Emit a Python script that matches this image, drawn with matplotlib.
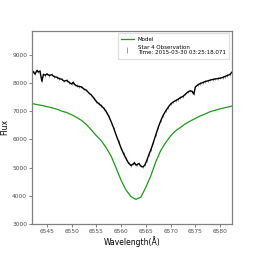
import matplotlib
matplotlib.use("Agg")
import matplotlib.pyplot as plt
import numpy as np

obs_wave = [6542.0, 6542.3, 6542.6, 6543.0, 6543.3, 6543.6, 6544.0, 6544.3, 6544.7,
            6545.0, 6545.5, 6546.0, 6546.5, 6547.0, 6547.5, 6548.0, 6548.5, 6549.0,
            6549.5, 6550.0, 6550.3, 6550.7, 6551.0, 6551.5, 6552.0, 6552.5, 6553.0,
            6553.5, 6554.0, 6554.5, 6555.0, 6555.5, 6556.0, 6556.5, 6557.0, 6557.5,
            6558.0, 6558.5, 6559.0, 6559.5, 6560.0, 6560.5, 6561.0, 6561.5, 6562.0,
            6562.4, 6562.7, 6563.0, 6563.3, 6563.6, 6564.0, 6564.4, 6564.8, 6565.2,
            6565.6, 6566.0, 6566.5, 6567.0, 6567.5, 6568.0, 6568.5, 6569.0, 6569.5,
            6570.0, 6570.5, 6571.0, 6571.5, 6572.0, 6572.5, 6573.0, 6573.5, 6574.0,
            6574.4, 6574.7, 6575.0, 6575.5, 6576.0, 6576.5, 6577.0, 6577.5, 6578.0,
            6578.5, 6579.0, 6579.5, 6580.0, 6580.5, 6581.0, 6581.5, 6582.0, 6582.4]
obs_flux = [8330, 8400, 8310, 8440, 8390, 8420, 8060, 8300, 8270,
            8320, 8260, 8290, 8220, 8200, 8150, 8130, 8060, 8090,
            8020, 7960, 8020, 7930, 7900, 7870, 7860, 7780, 7740,
            7640, 7570, 7460, 7340, 7260, 7190, 7100, 6980, 6820,
            6620, 6400, 6150, 5920, 5690, 5490, 5320, 5160, 5070,
            5120, 5170, 5090, 5110, 5140, 5050, 5020, 5090, 5250,
            5450, 5620, 5880, 6150, 6420, 6650, 6850, 7000, 7130,
            7250, 7320, 7370, 7420, 7480, 7520, 7600, 7680, 7720,
            7690, 7600, 7850, 7930, 7980, 8010, 8050, 8070, 8100,
            8120, 8140, 8150, 8170, 8190, 8230, 8260, 8300, 8380]
obs_err = 45

# model spectrum (green)
mod_wave = [6542.0, 6543.0, 6544.0, 6545.0, 6546.0, 6547.0, 6548.0, 6549.0, 6550.0,
            6551.0, 6552.0, 6553.0, 6554.0, 6555.0, 6556.0, 6557.0, 6558.0, 6559.0,
            6560.0, 6561.0, 6562.0, 6563.0, 6564.0, 6565.0, 6566.0, 6567.0, 6568.0,
            6569.0, 6570.0, 6571.0, 6572.0, 6573.0, 6574.0, 6575.0, 6576.0, 6577.0,
            6578.0, 6579.0, 6580.0, 6581.0, 6582.0, 6582.4]
mod_flux = [7270, 7230, 7200, 7160, 7120, 7070, 7000, 6950, 6870,
            6780, 6670, 6520, 6330, 6130, 5950, 5700, 5400, 4980,
            4550, 4200, 3970, 3870, 3950, 4300, 4700, 5200, 5600,
            5880, 6120, 6300, 6420, 6550, 6650, 6740, 6830, 6900,
            6980, 7030, 7080, 7120, 7160, 7180]

obs_label = "Star 4 Observation\nTime: 2015-03-30 03:25:18.071"

fig = plt.figure(figsize=(2.58, 2.58), dpi=100)
ax = fig.add_axes([0.124, 0.132, 0.775, 0.749])

ax.plot(mod_wave, mod_flux, color="#1c9a1c", lw=0.9, label="Model")
ax.errorbar(obs_wave, obs_flux, yerr=obs_err, fmt="none", ecolor="0.45",
            elinewidth=0.5, label=obs_label)
ax.plot(obs_wave, obs_flux, color="k", lw=1.0)

ax.set_xlim(6542, 6582.4)
ax.set_ylim(3000, 9850)
ax.set_xticks(np.arange(6545, 6581, 5))
ax.set_yticks(np.arange(3000, 9001, 1000))
ax.tick_params(labelsize=4.2, length=2, width=0.5, colors="0.3", pad=1.5)
for s in ax.spines.values():
    s.set_color("0.5")
    s.set_linewidth(0.9)

ax.set_xlabel("Wavelength(Å)", fontsize=5.5, labelpad=2)
ax.set_ylabel("Flux", fontsize=5.5, labelpad=2)

ax.legend(loc="upper right", fontsize=4, frameon=True, fancybox=False,
          edgecolor="0.85", handlelength=2.2, borderpad=0.6)

fig.savefig("out.png", dpi=100)
